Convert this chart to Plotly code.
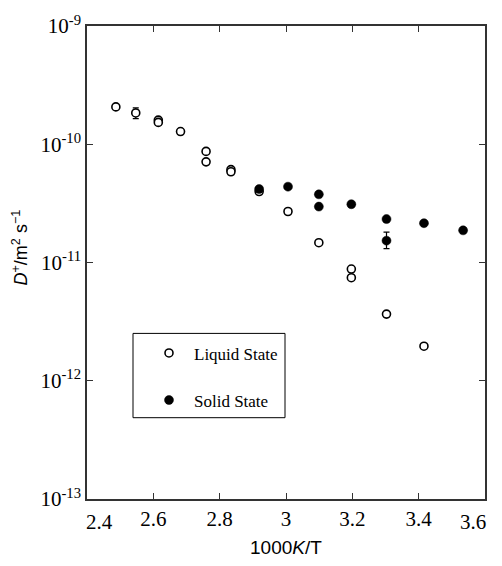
import plotly.graph_objects as go

# Liquid-state diffusion coefficients
liq_x = [2.487, 2.547, 2.615, 2.615, 2.682, 2.759, 2.759, 2.834, 2.834,
         2.919, 3.006, 3.099, 3.197, 3.197, 3.303, 3.416]
liq_y = [2.07e-10, 1.84e-10, 1.60e-10, 1.53e-10, 1.28e-10, 8.7e-11, 7.1e-11,
         6.1e-11, 5.85e-11, 3.98e-11, 2.70e-11, 1.47e-11, 8.8e-12, 7.44e-12,
         3.66e-12, 1.96e-12]
liq_err_plus = [None, 0.19e-10, None, None, None, None, None, None, None,
                None, None, None, None, None, None, None]
liq_err_minus = [None, 0.19e-10, None, None, None, None, None, None, None,
                 None, None, None, None, None, None, None]

# Solid-state diffusion coefficients
sol_x = [2.919, 3.006, 3.099, 3.099, 3.197, 3.303, 3.303, 3.416, 3.534]
sol_y = [4.18e-11, 4.38e-11, 3.77e-11, 2.97e-11, 3.11e-11, 2.33e-11,
         1.53e-11, 2.15e-11, 1.87e-11]
sol_err_plus = [None, None, None, None, None, None, 0.28e-11, None, 0.08e-11]
sol_err_minus = [None, None, None, None, None, None, 0.22e-11, None, 0.08e-11]

x_ticks = [2.4, 2.6, 2.8, 3.0, 3.2, 3.4, 3.6]
x_ticktext = ["", "2.6", "2.8", "3", "3.2", "3.4", ""]
x_end_labels = [(2.4, "2.4", 12), (3.6, "3.6", -12)]
y_ticks = [1e-13, 1e-12, 1e-11, 1e-10, 1e-9]
y_ticktext = ["10<sup>-13</sup>", "10<sup>-12</sup>", "10<sup>-11</sup>",
              "10<sup>-10</sup>", "10<sup>-9</sup>"]

serif = "Liberation Serif, Times New Roman, serif"
sans = "Liberation Sans, Arial, sans-serif"
tick_font = dict(family=serif, size=21, color="black")

fig = go.Figure()
fig.add_trace(go.Scatter(
    x=liq_x, y=liq_y, mode="markers", name="Liquid State",
    legendgroup="liq",
    marker=dict(symbol="circle", size=8, color="white",
                line=dict(color="black", width=1.6)),
    error_y=dict(type="data", symmetric=False, array=liq_err_plus,
                 arrayminus=liq_err_minus, color="black", thickness=1.2,
                 width=3),
))
fig.add_trace(go.Scatter(
    x=sol_x, y=sol_y, mode="markers", name="Solid State",
    legendgroup="sol",
    marker=dict(symbol="circle", size=9, color="black",
                line=dict(color="black", width=0.5)),
    error_y=dict(type="data", symmetric=False, array=sol_err_plus,
                 arrayminus=sol_err_minus, color="black", thickness=1.2,
                 width=3),
))

axis_common = dict(
    showline=True, linecolor="#333333", linewidth=1.5, mirror="ticks",
    ticks="inside", ticklen=6, tickwidth=1.2, tickcolor="#333333",
    showgrid=False, zeroline=False, tickfont=tick_font,
)

fig.update_xaxes(range=[2.4, 3.6], tickvals=x_ticks, ticktext=x_ticktext,
                 **axis_common)
fig.update_yaxes(type="log", range=[-13, -9], tickvals=y_ticks,
                 ticktext=y_ticktext, **axis_common)

# End labels of the x axis sit slightly inside the frame
for xv, label, shift in x_end_labels:
    fig.add_annotation(
        text=label, xref="x", yref="paper", x=xv, y=0, yshift=-9,
        xshift=shift, showarrow=False, xanchor="center", yanchor="top",
        font=tick_font,
    )

fig.add_annotation(
    text="<i>D</i><sup>+</sup>/m<sup>2</sup> s<sup>−1</sup>",
    xref="paper", yref="paper", x=-0.168, y=0.532, textangle=-90,
    showarrow=False, xanchor="center", yanchor="middle",
    font=dict(family=sans, size=18, color="black"),
)
fig.add_annotation(
    text="1000<i>K</i>/T",
    xref="paper", yref="paper", x=0.5, y=-0.103,
    showarrow=False, xanchor="center", yanchor="middle",
    font=dict(family=sans, size=19, color="black"),
)

# Legend frame
fig.add_shape(
    type="rect", xref="paper", yref="paper",
    x0=(133 - 87) / 398, x1=(285 - 87) / 398,
    y0=1 - (417 - 22) / 477, y1=1 - (332 - 22) / 477,
    line=dict(color="black", width=1), fillcolor="white", layer="below",
)

fig.update_layout(
    width=502, height=566,
    margin=dict(l=87, r=17, t=22, b=67),
    paper_bgcolor="white", plot_bgcolor="white",
    font=dict(family=serif, color="black"),
    showlegend=True,
    legend=dict(
        x=(144 - 87) / 398, y=1 - (334 - 22) / 477,
        xanchor="left", yanchor="top",
        borderwidth=0, bgcolor="rgba(0,0,0,0)",
        font=dict(family=serif, size=17, color="black"),
        tracegroupgap=22, itemwidth=40,
    ),
)

fig.write_html("out.html")
